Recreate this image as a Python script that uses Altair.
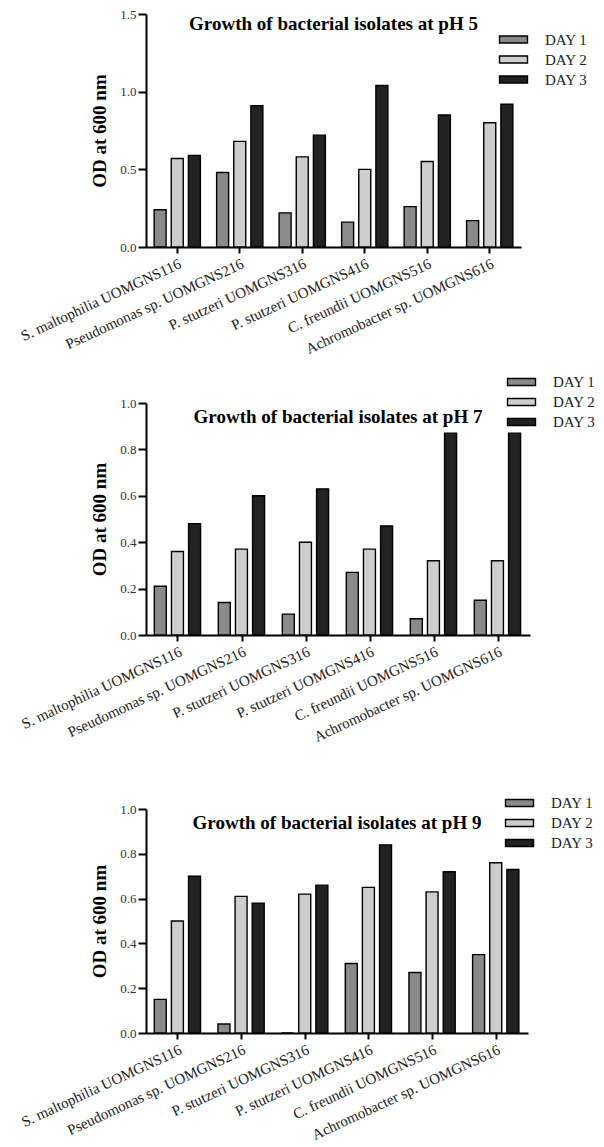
import altair as alt
import pandas as pd

isolates = [
    "S. maltophilia UOMGNS116",
    "Pseudomonas sp. UOMGNS216",
    "P. stutzeri UOMGNS316",
    "P. stutzeri UOMGNS416",
    "C. freundii UOMGNS516",
    "Achromobacter sp. UOMGNS616",
]
days = ["DAY 1", "DAY 2", "DAY 3"]

ph5_day1 = [0.24, 0.48, 0.22, 0.16, 0.26, 0.17]
ph5_day2 = [0.57, 0.68, 0.58, 0.50, 0.55, 0.80]
ph5_day3 = [0.59, 0.91, 0.72, 1.04, 0.85, 0.92]

ph7_day1 = [0.21, 0.14, 0.09, 0.27, 0.07, 0.15]
ph7_day2 = [0.36, 0.37, 0.40, 0.37, 0.32, 0.32]
ph7_day3 = [0.48, 0.60, 0.63, 0.47, 0.87, 0.87]

ph9_day1 = [0.15, 0.04, 0.00, 0.31, 0.27, 0.35]
ph9_day2 = [0.50, 0.61, 0.62, 0.65, 0.63, 0.76]
ph9_day3 = [0.70, 0.58, 0.66, 0.84, 0.72, 0.73]

titles = [
    "Growth of bacterial isolates at pH 5",
    "Growth of bacterial isolates at pH 7",
    "Growth of bacterial isolates at pH 9",
]

fills = ["#8a8a8a", "#cdcdcd", "#222222"]
SERIF = "Liberation Serif"


def long_table(d1, d2, d3):
    rows = []
    for day, vals in zip(days, [d1, d2, d3]):
        for iso, v in zip(isolates, vals):
            rows.append({"isolate": iso, "day": day, "od": v})
    return pd.DataFrame(rows)


def panel(title, d1, d2, d3, ymax, yvals, w, h, top, lx, ly, toff):
    df = long_table(d1, d2, d3)
    total_h = h + top
    return (
        alt.Chart(df)
        .mark_bar(stroke="black", strokeWidth=1.4)
        .encode(
            x=alt.X(
                "isolate:N",
                sort=isolates,
                scale=alt.Scale(paddingInner=0.26, paddingOuter=0.13),
                axis=alt.Axis(
                    title=None,
                    grid=False,
                    labelAngle=-25,
                    labelFont=SERIF,
                    labelFontSize=15,
                    labelColor="#222",
                    labelLimit=0,
                    labelPadding=3,
                    tickSize=6,
                    domainColor="black",
                    domainWidth=2,
                    tickColor="black",
                    tickWidth=2,
                ),
            ),
            xOffset=alt.XOffset(
                "day:N", sort=days, scale=alt.Scale(paddingInner=0.3, paddingOuter=0)
            ),
            y=alt.Y(
                "od:Q",
                scale=alt.Scale(domain=[0, ymax], nice=False, range=[total_h, top]),
                axis=alt.Axis(
                    values=yvals,
                    format=".1f",
                    grid=False,
                    title="OD at 600 nm",
                    titleFont=SERIF,
                    titleFontSize=19,
                    titleFontWeight="bold",
                    titleColor="black",
                    titlePadding=10,
                    labelFont=SERIF,
                    labelFontSize=13,
                    labelColor="#333",
                    labelPadding=2,
                    tickSize=8,
                    domainColor="black",
                    domainWidth=2,
                    tickColor="black",
                    tickWidth=2,
                ),
            ),
            color=alt.Color(
                "day:N",
                sort=days,
                scale=alt.Scale(domain=days, range=fills),
                legend=alt.Legend(
                    title=None,
                    orient="none",
                    legendX=lx,
                    legendY=ly,
                    symbolType="M-3,-0.75H3V0.75H-3Z",
                    symbolSize=87,
                    symbolStrokeColor="black",
                    symbolStrokeWidth=1.4,
                    symbolOpacity=1,
                    labelFont=SERIF,
                    labelFontSize=15,
                    labelColor="#222",
                    labelOffset=24,
                    rowPadding=4,
                    padding=0,
                ),
            ),
        )
        .properties(
            width=w,
            height=total_h,
            title=alt.TitleParams(
                text=title,
                font=SERIF,
                fontSize=19,
                fontWeight="bold",
                color="black",
                anchor="middle",
                frame="group",
                offset=toff,
            ),
        )
    )


p1 = panel(titles[0], ph5_day1, ph5_day2, ph5_day3, 1.5, [0, 0.5, 1.0, 1.5],
           375, 233, 0, 360, 18, -26)
p2 = panel(titles[1], ph7_day1, ph7_day2, ph7_day3, 1.0, [0, 0.2, 0.4, 0.6, 0.8, 1.0],
           384, 232, 30, 368, 1.5, -54)
p3 = panel(titles[2], ph9_day1, ph9_day2, ph9_day3, 1.0, [0, 0.2, 0.4, 0.6, 0.8, 1.0],
           382, 224, 15, 366, 1.5, -39)

inner = (
    alt.vconcat(p1, p2, spacing=16)
    .resolve_scale(color="independent")
    .resolve_legend(color="independent")
)

chart = (
    alt.vconcat(inner, p3, spacing=49)
    .resolve_scale(color="independent")
    .resolve_legend(color="independent")
    .properties(
        padding={"left": 10, "top": 0, "right": 0, "bottom": 0},
        background="white",
    )
    .configure_view(stroke=None)
)

chart.save("out.html", embed_options={"renderer": "svg", "actions": False})
